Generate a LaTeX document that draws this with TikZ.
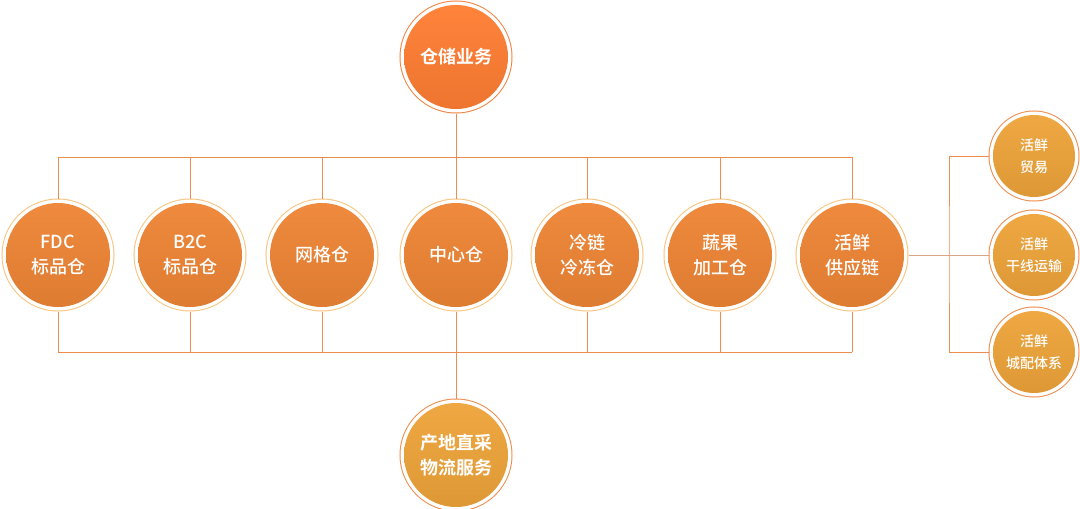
\documentclass[tikz,border=0pt]{standalone}
\usepackage{fontspec}
\setmainfont{Noto Sans CJK SC}[UprightFont={* Medium}, BoldFont={* Bold}]
\definecolor{topc}{HTML}{FF7E33}
\definecolor{topring}{HTML}{F4813D}
\definecolor{midc}{HTML}{EE8535}
\definecolor{midring}{HTML}{F9C27A}
\definecolor{lowc}{HTML}{EEA43A}
\definecolor{lowring}{HTML}{F08A4A}
\definecolor{linkc}{HTML}{EE8B4F}
\definecolor{tanc}{HTML}{D9A585}
\def\bigtxt{\fontsize{18}{25}\selectfont}
\def\midtxt{\fontsize{18}{25}\selectfont}
\def\smalltxt{\fontsize{14}{22}\selectfont}
\tikzset{
  ball/.style 2 args={circle, minimum size=104pt, inner sep=0pt, outer sep=4.5pt,
    text=white, align=center,
    top color=#1!96!white, bottom color=#1!93!black,
    preaction={draw=#2, line width=9pt},
    preaction={draw=white, line width=7pt}},
  small ball/.style={ball={lowc}{lowring}, minimum size=82pt, font=\smalltxt},
  link/.style={draw=linkc, line width=1pt},
}
\begin{document}
\begin{tikzpicture}[x=1pt,y=-1pt]
\useasboundingbox (0,0) rectangle (1080,509);
%top
\node[ball={topc}{topring}, font=\bigtxt\bfseries] (store) at (456,57) {仓储业务};
%row
\foreach \nm/\x/\txt in {fdc/58/FDC\\标品仓, b2c/190/B2C\\标品仓, grid/322/网格仓,
    hub/456/中心仓, cold/587/冷链\\冷冻仓, veg/720/蔬果\\加工仓, fresh/852/活鲜\\供应链}
  \node[ball={midc}{midring}, font=\midtxt] (\nm) at (\x,255) {\txt};
%bottom
\node[ball={lowc}{lowring}, font=\bigtxt\bfseries] (farm) at (456,455) {产地直采\\物流服务};
%right
\node[small ball] (trade) at (1034,156) {活鲜\\贸易};
\node[small ball] (line) at (1034,255) {活鲜\\干线运输};
\node[small ball] (city) at (1034,352) {活鲜\\城配体系};
%links
\coordinate (upbus) at (456,157);
\coordinate (lowbus) at (456,352);
\coordinate (split) at (949,255);
\draw[link] (store) -- (upbus);
\draw[link] (fdc |- upbus) -- (fresh |- upbus);
\draw[link] (fdc |- lowbus) -- (fresh |- lowbus);
\foreach \nm in {fdc,b2c,grid,hub,cold,veg,fresh}{
  \draw[link] (\nm) -- (\nm |- upbus);
  \draw[link] (\nm) -- (\nm |- lowbus);
}
\draw[link] (lowbus) -- (farm);
\draw[link] (trade) -| (split) |- (city);
\draw[link, draw=tanc] (fresh) -- (line);
\end{tikzpicture}
\end{document}
